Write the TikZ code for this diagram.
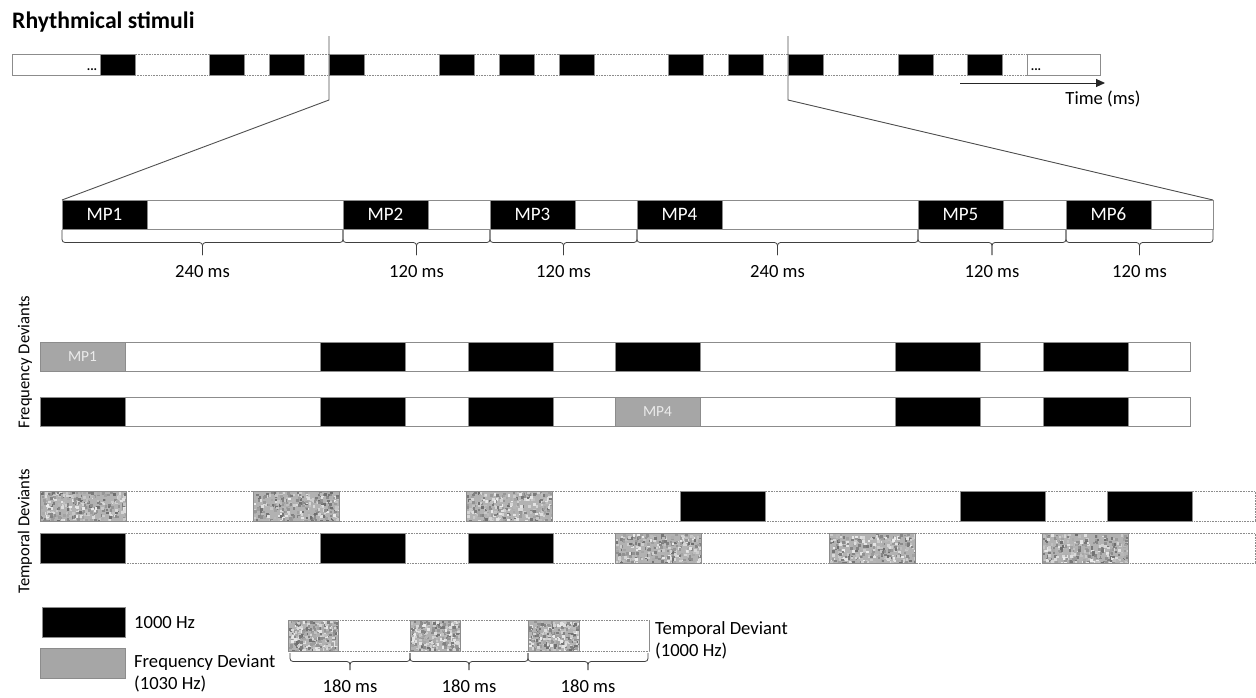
\documentclass[tikz,border=0pt]{standalone}
\usepackage{fontspec}
\setmainfont{Carlito}
\usetikzlibrary{arrows.meta}

\definecolor{devgray}{RGB}{166,166,166}
\definecolor{edgegray}{RGB}{140,140,140}
\definecolor{zoomgray}{RGB}{80,80,80}

\tikzset{
  tone/.style={fill=black, draw=edgegray, line width=0.8pt},
  fdev/.style={fill=devgray, draw=edgegray, line width=0.8pt},
  seq/.style={draw=edgegray, line width=0.8pt},
  dotseq/.style={draw=edgegray, line width=0.8pt, dash pattern=on 0.8pt off 0.8pt},
  bracepen/.style={draw=black!75, line width=0.8pt, rounded corners=3pt},
  zoomline/.style={draw=zoomgray, line width=0.9pt},
  lbl/.style={font=\fontsize{18.6}{22}\selectfont, inner sep=0pt},
  mplbl/.style={font=\fontsize{19}{22}\selectfont, text=white, inner sep=0pt},
  devlbl/.style={font=\fontsize{15.4}{18}\selectfont, text=white!92!black, inner sep=0pt},
  sidelbl/.style={font=\fontsize{16.6}{20}\selectfont, rotate=90, inner sep=0pt},
  dots/.style={font=\fontsize{13}{15}\selectfont\bfseries, inner sep=0pt},
}

% brace under a span: from x, to x, top y, half height, label, name
\newcommand{\msbrace}[6]{%
  \draw[bracepen] (#1,#3) -- (#1,#3+#4) -- ({(#1+#2)/2},#3+#4) -- ({(#1+#2)/2},#3+2*#4);
  \draw[bracepen] (#2,#3) -- (#2,#3+#4) -- ({(#1+#2)/2},#3+#4) -- ({(#1+#2)/2},#3+2*#4);
  \node[lbl, anchor=base] (#6) at ({(#1+#2)/2},#3+2*#4+22) {#5};
}

% noisy grey block (temporal deviant)
\newcommand{\noisebox}[4]{%
  \fill[black!30] (#1,#2) rectangle (#3,#4);
  \begin{scope}
    \clip (#1,#2) rectangle (#3,#4);
    \foreach \k in {1,...,320} {
      \pgfmathsetmacro{\nx}{#1+rnd*(#3-#1)}
      \pgfmathsetmacro{\ny}{#2+rnd*(#4-#2)}
      \pgfmathsetmacro{\ng}{int(8+50*rnd)}
      \fill[black!\ng] (\nx,\ny) rectangle ++(2.6,2.6);
    }
  \end{scope}
  \draw[seq] (#1,#2) rectangle (#3,#4);
}

\begin{document}
\begin{tikzpicture}[x=1pt,y=-1pt]
\pgfmathsetseed{42}
\useasboundingbox[fill=white] (0,0) rectangle (1256,697);

\node[anchor=base west, font=\fontsize{23.7}{28}\selectfont\bfseries, inner sep=0pt] (title) at (12,28) {Rhythmical stimuli};

% overview strip
\draw[seq, fill=white] (12,54) rectangle (100,75);
\draw[dotseq] (100,54) rectangle (1027,75);
\draw[seq] (1027,54) rectangle (1100,75);
\foreach \x in {100,209,269,329,439,499,559,668,728,788,898,967}
  \draw[tone] (\x,54) rectangle ++(35,21);
\node[dots] (dotsl) at (92,70) {...};
\node[dots] (dotsr) at (1036,70) {...};

\coordinate (t0) at (960,83);
\coordinate (t1) at (1105,83);
\draw[-{Triangle[length=9pt,width=8pt]}, line width=1pt, black!85] (t0) -- (t1);
\node[lbl, anchor=base] (time) at (1103,104) {Time (ms)};

% zoom onto one bar
\coordinate (cutl) at (329,36);
\coordinate (cutr) at (788,36);
\coordinate (mpl) at (62,200);
\coordinate (mpr) at (1213,200);
\draw[zoomline] (cutl) -- ++(0,64) -- (mpl);
\draw[zoomline] (cutr) -- ++(0,64) -- (mpr);

% metrical positions
\draw[seq] (mpl) rectangle (1213,229);
\foreach \x/\n in {62/1,343/2,490/3,637/4,918/5,1066/6} {
  \draw[tone] (\x,200) rectangle ++(85,29);
  \node[mplbl] (mp\n) at (\x+42.5,214.5) {MP\n};
}
\foreach \a/\b/\t [count=\k] in {62/343/240,343/490/120,490/637/120,637/918/240,918/1066/120,1066/1213/120}
  \msbrace{\a}{\b}{230}{12.5}{\t\ ms}{span\k};

% frequency deviants
\node[sidelbl] (freq) at (25,362) {Frequency Deviants};
\foreach \y in {342,397}
  \draw[seq] (40,\y) rectangle (1190,\y+29);
\draw[fdev] (40,342) rectangle ++(85,29);
\foreach \x in {320,468,615,895,1043}
  \draw[tone] (\x,342) rectangle ++(85,29);
\node[devlbl] (fmp1) at (82.5,356.5) {MP1};
\foreach \x in {40,320,468,895,1043}
  \draw[tone] (\x,397) rectangle ++(85,29);
\draw[fdev] (615,397) rectangle ++(85,29);
\node[devlbl] (fmp4) at (657.5,411.5) {MP4};

% temporal deviants
\node[sidelbl] (temp) at (25,531) {Temporal Deviants};
\draw[dotseq] (40,491) rectangle (1255,521);
\draw[dotseq] (40,533) rectangle (1255,563);
\foreach \x in {40,253,466}
  \noisebox{\x}{491}{\x+86}{521};
\foreach \x in {680,960,1107}
  \draw[tone] (\x,491) rectangle ++(85,30);
\foreach \x in {40,320,468}
  \draw[tone] (\x,533) rectangle ++(85,30);
\foreach \x in {615,829,1042}
  \noisebox{\x}{533}{\x+86}{563};

% legend
\draw[tone] (42,607) rectangle (125,637);
\draw[fdev] (40,648) rectangle (125,678);
\node[lbl, anchor=base west] (leg1) at (134,628) {1000 Hz};
\node[lbl, anchor=base west] (leg2) at (134,667) {Frequency Deviant};
\node[lbl, anchor=base west] (leg3) at (134,689) {(1030 Hz)};

\draw[dotseq] (288,620) rectangle (649,651);
\draw[seq] (649,620) -- (649,651);
\foreach \x/\w in {288/50,410/50,528/51}
  \noisebox{\x}{620}{\x+\w}{651};
\foreach \a/\b [count=\k] in {290/410,410/528,528/648}
  \msbrace{\a}{\b}{653}{8.5}{180 ms}{iti\k};
\node[lbl, anchor=base west] (leg4) at (655,634) {Temporal Deviant};
\node[lbl, anchor=base west] (leg5) at (655,656) {(1000 Hz)};
\end{tikzpicture}
\end{document}
